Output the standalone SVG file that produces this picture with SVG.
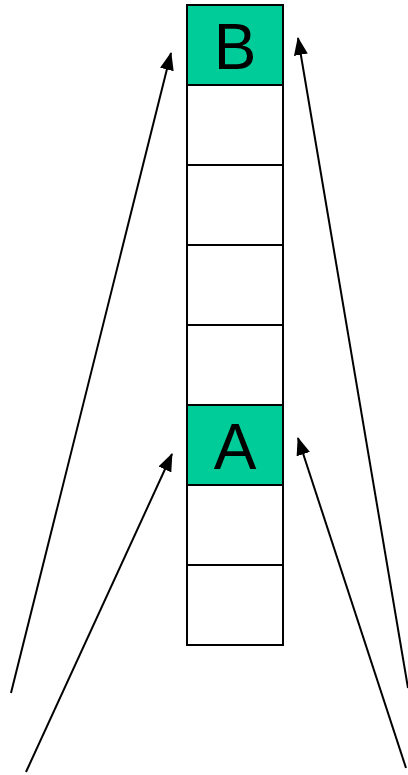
<svg xmlns="http://www.w3.org/2000/svg" width="408" height="775" viewBox="0 0 408 775">
<style>
.cell{fill:#fff;stroke:#000;stroke-width:2}
.hl{fill:#00cc99}
.lbl{font-family:"Liberation Sans",Arial,sans-serif;font-size:64px;fill:#000;text-anchor:middle}
.arr{stroke:#000;stroke-width:2;fill:none;marker-end:url(#ah)}
</style>
<defs>
<marker id="ah" viewBox="0 0 18 14" refX="17" refY="7" markerWidth="18" markerHeight="14" orient="auto" markerUnits="userSpaceOnUse">
<path d="M0,0 L18,7 L0,14 z" fill="#000"/>
</marker>
</defs>
<rect width="408" height="775" fill="#fff"/>
<g id="cell-B"><rect class="cell hl" x="187" y="5" width="96" height="80"/><text class="lbl" x="235" y="69">B</text></g>
<g id="cell-1"><rect class="cell" x="187" y="85" width="96" height="80"/></g>
<g id="cell-2"><rect class="cell" x="187" y="165" width="96" height="80"/></g>
<g id="cell-3"><rect class="cell" x="187" y="245" width="96" height="80"/></g>
<g id="cell-4"><rect class="cell" x="187" y="325" width="96" height="80"/></g>
<g id="cell-A"><rect class="cell hl" x="187" y="405" width="96" height="80"/><text class="lbl" x="235" y="469">A</text></g>
<g id="cell-6"><rect class="cell" x="187" y="485" width="96" height="80"/></g>
<g id="cell-7"><rect class="cell" x="187" y="565" width="96" height="80"/></g>
<g id="connectors">
<line class="arr" x1="11" y1="693" x2="171" y2="53"/>
<line class="arr" x1="26" y1="772" x2="172" y2="454"/>
<line class="arr" x1="408" y1="688" x2="298" y2="38"/>
<line class="arr" x1="406" y1="768" x2="298" y2="438"/>
</g>
</svg>
